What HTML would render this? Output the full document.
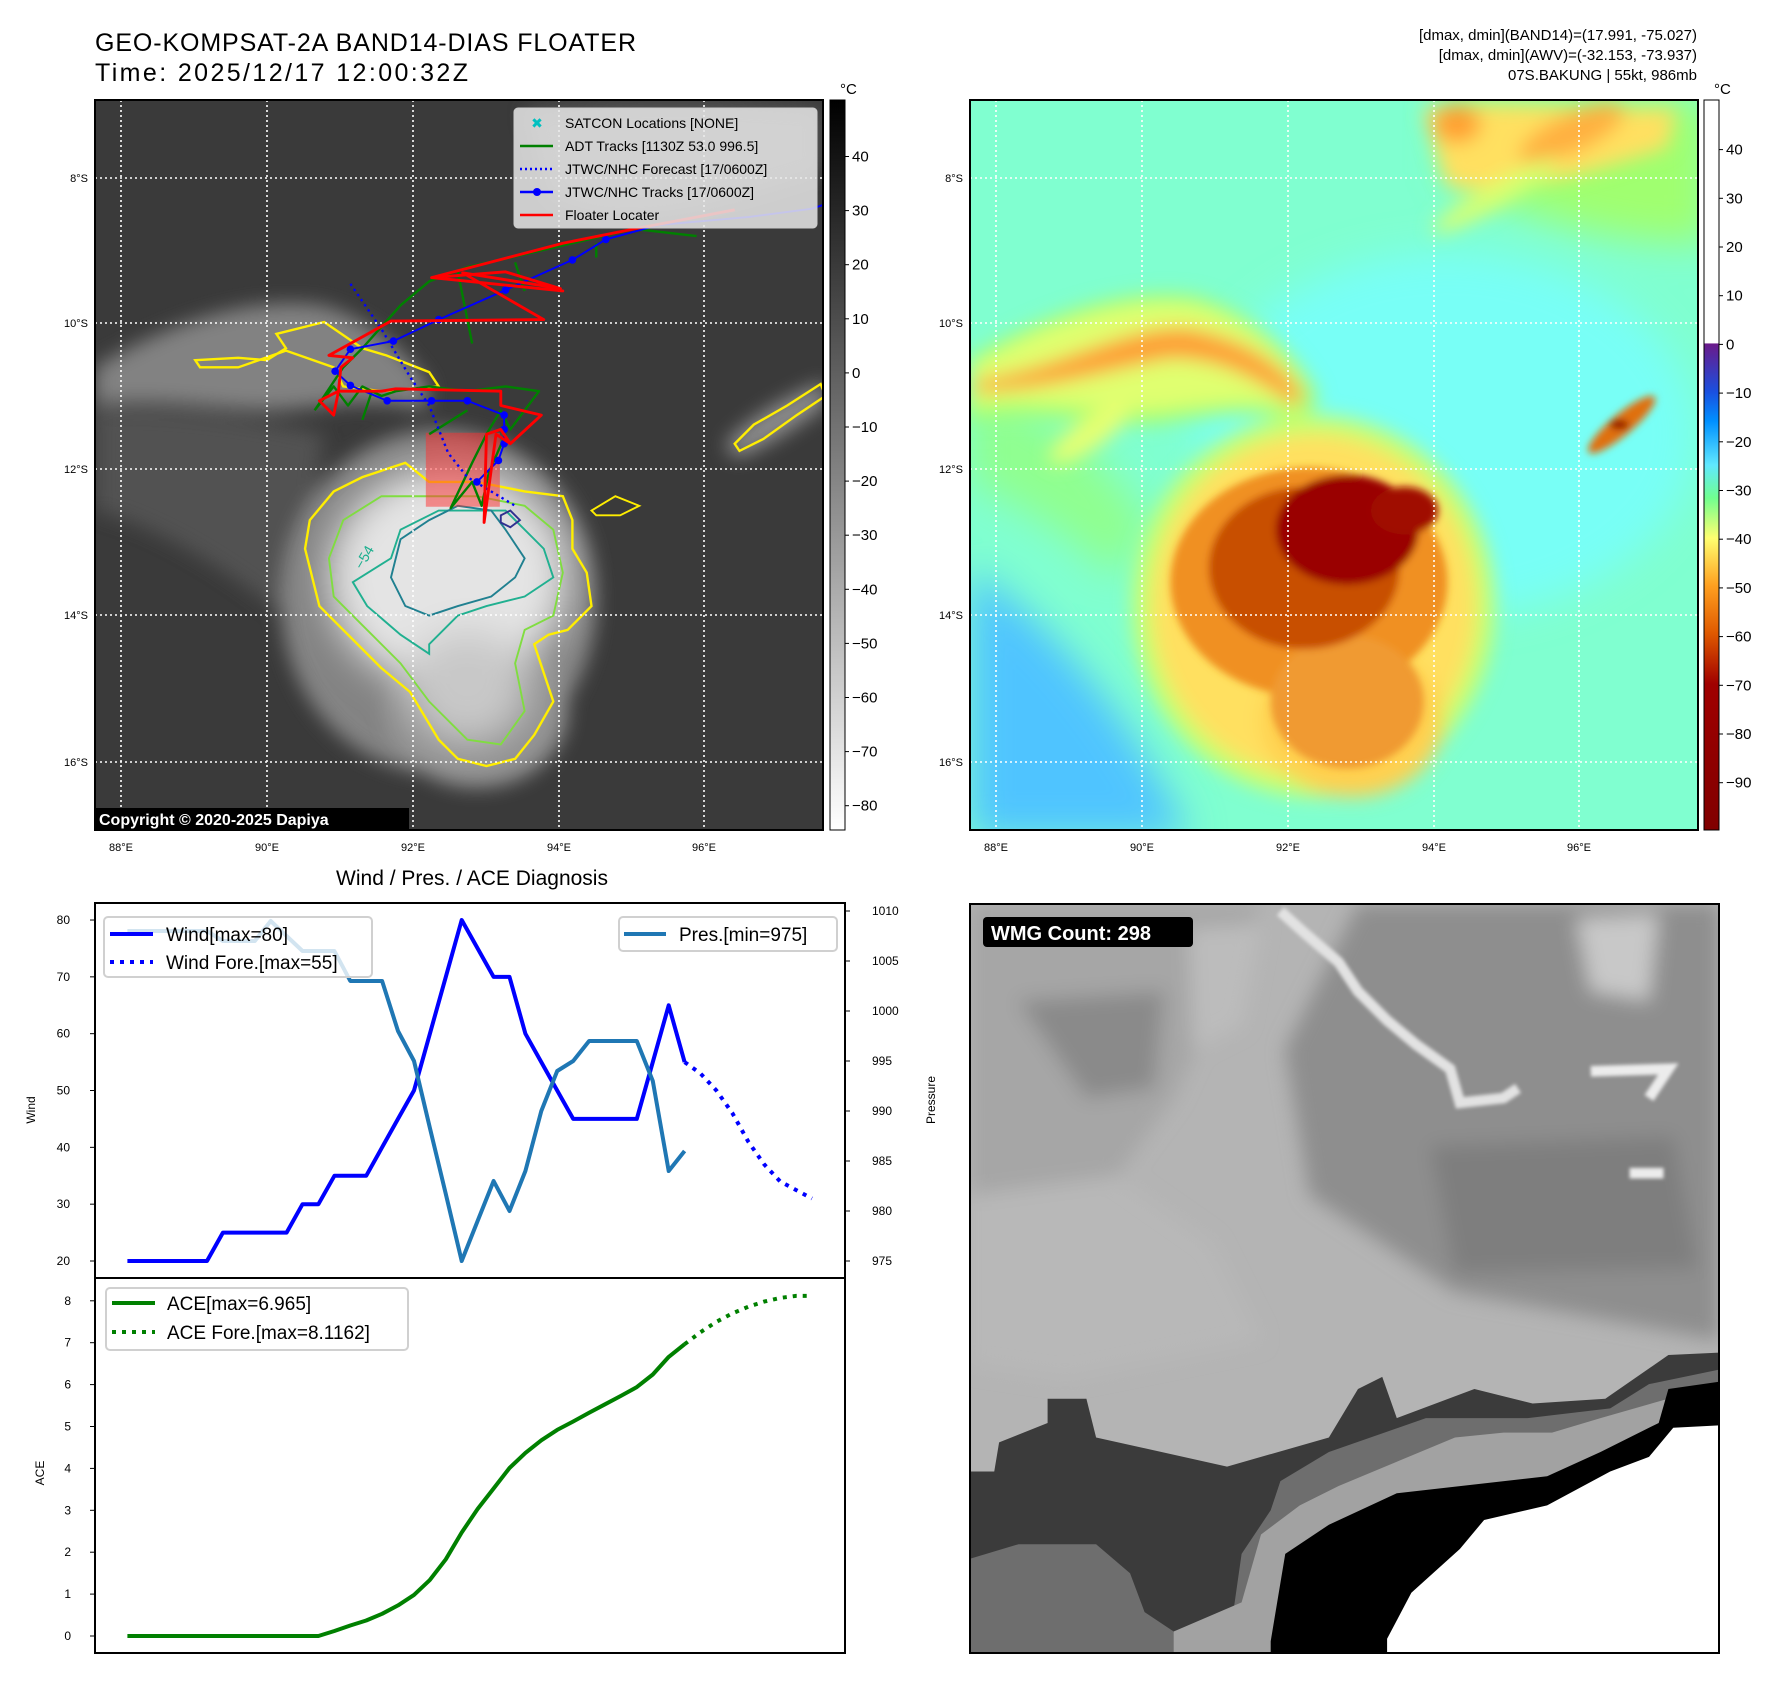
<!DOCTYPE html>
<html><head><meta charset="utf-8"><title>GEO-KOMPSAT-2A BAND14-DIAS FLOATER</title>
<style>
html,body{margin:0;padding:0;background:#fff;}
svg{display:block;font-family:"Liberation Sans","DejaVu Sans",sans-serif;}
</style></head>
<body>
<svg id="root" width="1788" height="1690" viewBox="0 0 1788 1690" xmlns="http://www.w3.org/2000/svg">
<defs>
<filter id="b4" x="-30%" y="-30%" width="160%" height="160%"><feGaussianBlur stdDeviation="4"/></filter>
<filter id="b8" x="-30%" y="-30%" width="160%" height="160%"><feGaussianBlur stdDeviation="8"/></filter>
<filter id="b20" x="-50%" y="-50%" width="200%" height="200%"><feGaussianBlur stdDeviation="20"/></filter>
<filter id="b40" x="-50%" y="-50%" width="200%" height="200%"><feGaussianBlur stdDeviation="40"/></filter>
<clipPath id="clipL"><rect x="95" y="100" width="728" height="730"/></clipPath>
<clipPath id="clipR"><rect x="970" y="100" width="728" height="730"/></clipPath>
<clipPath id="clipW"><rect x="970" y="904" width="749" height="749"/></clipPath>
<linearGradient id="cb1" x1="0" y1="0" x2="0" y2="1">
<stop offset="0" stop-color="#000"/><stop offset="1" stop-color="#fff"/></linearGradient>
<linearGradient id="cb2" x1="0" y1="0" x2="0" y2="1">
<stop offset="0" stop-color="#fff"/><stop offset="0.333" stop-color="#fff"/>
<stop offset="0.334" stop-color="#6a1a8a"/><stop offset="0.40" stop-color="#1a50e0"/>
<stop offset="0.44" stop-color="#0090ff"/><stop offset="0.50" stop-color="#60e8ff"/>
<stop offset="0.545" stop-color="#70ff90"/><stop offset="0.60" stop-color="#ffff70"/>
<stop offset="0.665" stop-color="#ffa020"/><stop offset="0.73" stop-color="#e05a00"/>
<stop offset="0.80" stop-color="#a00000"/><stop offset="1" stop-color="#800000"/></linearGradient>
</defs>

<!-- Titles -->
<text x="95" y="51" font-size="25" textLength="541">GEO-KOMPSAT-2A BAND14-DIAS FLOATER</text>
<text x="95" y="81" font-size="25" textLength="373">Time: 2025/12/17 12:00:32Z</text>
<g font-size="15" text-anchor="end">
<text x="1697" y="40">[dmax, dmin](BAND14)=(17.991, -75.027)</text>
<text x="1697" y="60">[dmax, dmin](AWV)=(-32.153, -73.937)</text>
<text x="1697" y="80">07S.BAKUNG | 55kt, 986mb</text>
</g>

<!-- ============ LEFT MAP (BAND14 grayscale) ============ -->
<g clip-path="url(#clipL)">
<rect x="95" y="100" width="728" height="730" fill="#3a3a3a"/>
<g transform="translate(95,100) scale(0.4774)">
 <g filter="url(#b20)" opacity="0.9">
  <path d="M0,560 C150,470 320,410 470,430 C560,450 650,520 700,600 L690,650 C600,620 500,640 380,650 C250,650 120,620 0,640 Z" fill="#8a8a8a"/>
  <path d="M0,650 C120,640 300,660 480,700 L420,1100 C300,1000 150,900 0,860 Z" fill="#555"/>
  <path d="M900,20 C1100,0 1300,0 1520,20 L1520,150 C1300,220 1100,280 950,200 Z" fill="#5a5a5a"/>
  <path d="M1320,720 C1380,660 1450,620 1530,590 L1530,640 C1460,690 1400,730 1340,750 Z" fill="#999"/>
  <ellipse cx="720" cy="1050" rx="330" ry="360" fill="#8c8c8c"/>
  <ellipse cx="800" cy="1280" rx="190" ry="160" fill="#9a9a9a"/>
 </g>
 <g filter="url(#b40)">
  <ellipse cx="740" cy="1000" rx="250" ry="230" fill="#e4e4e4"/>
  <ellipse cx="780" cy="1230" rx="130" ry="120" fill="#c8c8c8"/>
 </g>
 <!-- contours -->
 <path d="M440,940 L450,880 L500,820 L560,790 L650,760 L700,800 L800,800 L900,820 L980,830 L1000,880 L1000,940 L1030,990 L1040,1060 L990,1110 L950,1120 L920,1140 L960,1260 L920,1330 L880,1380 L820,1395 L760,1380 L720,1340 L660,1240 L600,1190 L520,1110 L470,1060 Z" fill="none" stroke="#ffee00" stroke-width="5"/>
 <path d="M490,960 L520,880 L600,830 L700,830 L800,830 L900,850 L960,900 L980,990 L960,1080 L900,1110 L880,1180 L900,1280 L850,1350 L780,1340 L700,1260 L640,1180 L560,1100 L500,1040 Z" fill="none" stroke="#80dd40" stroke-width="4"/>
 <path d="M540,1010 L620,960 L640,900 L720,860 L860,860 L940,940 L960,1000 L900,1040 L820,1060 L760,1080 L700,1140 L700,1160 L640,1120 L570,1060 Z" fill="none" stroke="#20b090" stroke-width="4"/>
 <path d="M620,1000 L640,920 L700,880 L760,850 L830,860 L860,900 L900,960 L880,1000 L830,1040 L760,1060 L700,1080 L650,1060 Z" fill="none" stroke="#208090" stroke-width="4"/>
 <path d="M850,870 L870,860 L890,880 L870,895 L850,885 Z" fill="none" stroke="#303090" stroke-width="4"/>
 <path d="M210,545 L300,540 L360,545 L400,520 L380,490 L480,465 L560,520 L610,535 L700,570 L720,600 L600,610 L520,600 L500,560 L400,525 L300,560 L220,560 Z" fill="none" stroke="#ffee00" stroke-width="5"/>
 <path d="M1340,720 L1380,680 L1450,640 L1520,595 L1530,620 L1470,660 L1400,710 L1350,735 Z" fill="none" stroke="#ffee00" stroke-width="5"/>
 <path d="M1040,860 L1090,830 L1140,850 L1100,870 L1050,870 Z" fill="none" stroke="#ffee00" stroke-width="4"/>
 <text x="560" y="985" font-size="30" fill="#20b090" transform="rotate(-60 560 985)">−54</text>
</g>
</g>

<!-- ============ RIGHT MAP (AWV color) ============ -->
<g clip-path="url(#clipR)">
<rect x="970" y="100" width="728" height="730" fill="#80ffd0"/>
<g transform="translate(970,100) scale(0.4774)">
 <g filter="url(#b40)">
  <ellipse cx="1000" cy="700" rx="520" ry="380" fill="#78fff6"/>
  <path d="M0,980 C150,1080 330,1270 460,1545 L0,1545 Z" fill="#50c4ff"/>
  <path d="M1000,0 L1550,0 L1550,300 C1350,300 1150,250 1000,150 Z" fill="#a0ff70"/>
  <path d="M0,600 C150,640 300,760 380,900 L300,1000 C200,900 100,850 0,800 Z" fill="#90ff90"/>
 </g>
 <g filter="url(#b20)">
  <path d="M0,540 C150,450 320,390 470,410 C580,440 680,520 730,620 L700,680 C600,640 500,660 380,680 C250,680 120,650 0,670 Z" fill="#a8ff70"/>
  <path d="M0,560 C150,470 320,410 470,430 C560,450 650,520 700,600 L690,650 C600,620 500,640 380,650 C250,650 120,620 0,640 Z" fill="#e0ff70"/>
  <path d="M10,590 C200,560 330,470 460,480 C560,500 640,540 700,620 L680,640 C600,580 520,540 420,540 C300,560 150,610 10,610 Z" fill="#ff9a30"/>
  <path d="M950,20 C1050,0 1200,20 1480,20 L1460,100 C1300,150 1150,200 1000,180 Z" fill="#ffe060"/>
  <ellipse cx="1020" cy="50" rx="50" ry="40" fill="#ffa030"/>
  <ellipse cx="1260" cy="70" rx="120" ry="40" fill="#ffb040" transform="rotate(-25 1260 70)"/>
  <ellipse cx="720" cy="1060" rx="380" ry="400" fill="#c8ff70"/>
  <ellipse cx="720" cy="1060" rx="340" ry="360" fill="#ffe060"/>
  <ellipse cx="800" cy="1300" rx="190" ry="160" fill="#ffd050"/>
  <ellipse cx="250" cy="700" rx="100" ry="30" fill="#e8ff70" transform="rotate(-35 250 700)"/>
  <ellipse cx="1100" cy="200" rx="150" ry="25" fill="#d8ff70" transform="rotate(-30 1100 200)"/>
 </g>
 <g filter="url(#b8)">
  <ellipse cx="710" cy="1010" rx="290" ry="240" fill="#f09020"/>
  <ellipse cx="790" cy="1260" rx="160" ry="140" fill="#f09a30"/>
  <ellipse cx="700" cy="980" rx="200" ry="170" fill="#c85000"/>
  <ellipse cx="790" cy="900" rx="150" ry="115" fill="#9a0000"/>
  <ellipse cx="910" cy="860" rx="70" ry="50" fill="#a01000"/>
  <ellipse cx="1365" cy="680" rx="90" ry="22" fill="#e07010" transform="rotate(-40 1365 680)"/>
  <ellipse cx="1360" cy="680" rx="20" ry="10" fill="#900000"/>
 </g>
</g>
</g>

<!-- grid lines both maps -->
<g stroke="#fff" stroke-width="1.6" stroke-dasharray="2,3" fill="none">
 <path d="M121,100V830M267,100V830M413,100V830M559,100V830M704,100V830M95,178H823M95,323H823M95,469H823M95,615H823M95,762H823"/>
 <path d="M996,100V830M1142,100V830M1288,100V830M1434,100V830M1579,100V830M970,178H1698M970,323H1698M970,469H1698M970,615H1698M970,762H1698"/>
</g>

<!-- tracks on left map -->
<g clip-path="url(#clipL)">
<g transform="translate(95,100) scale(0.4774)" fill="none" stroke-linejoin="round">
 <rect x="693" y="697" width="155" height="155" fill="#ff3030" fill-opacity="0.5" stroke="none"/>
 <path d="M460,650 L520,560 L560,520 L640,430 L700,380 L780,350 L870,330 L1000,300 L1130,270 L1260,285 M760,360 L790,510 M880,340 L900,400 M1050,300 L1050,330 M460,650 L500,600 L530,640 L560,600 L600,620 L630,610 L700,600 L780,610 L860,600 L930,610 L870,690 L850,650 L820,700 L790,760 L745,855 L790,800 L810,850 L825,780 L860,700 M560,670 L580,610 M700,700 L780,650" stroke="#008000" stroke-width="5"/>
 <path d="M535,385 L600,480 L660,580 L700,640 L740,740 L780,790 L880,850" stroke="#0000ff" stroke-width="5" stroke-dasharray="5,8"/>
 <path d="M1540,215 L1500,228 L1370,245 L1180,262 L1070,292 L1000,335 L860,398 L720,460 L625,505 L535,522 L503,568 L535,598 L612,630 L705,630 L780,630 L857,660 L857,690 L857,720 L845,755 L800,800" stroke="#0000ff" stroke-width="4"/>
 <g fill="#0000ff">
  <circle cx="1070" cy="292" r="8"/><circle cx="1000" cy="335" r="8"/><circle cx="860" cy="398" r="8"/><circle cx="720" cy="460" r="8"/><circle cx="625" cy="505" r="8"/><circle cx="535" cy="522" r="8"/><circle cx="503" cy="568" r="8"/><circle cx="535" cy="598" r="8"/><circle cx="612" cy="630" r="8"/><circle cx="705" cy="630" r="8"/><circle cx="780" cy="630" r="8"/><circle cx="857" cy="660" r="8"/><circle cx="857" cy="690" r="8"/><circle cx="857" cy="720" r="8"/><circle cx="845" cy="755" r="8"/><circle cx="800" cy="800" r="8"/>
 </g>
 <path d="M1340,230 L1130,270 L980,300 L770,355 L705,372 L980,400 L705,372 L860,360 L975,395 L770,362 L940,460 L620,463 L490,535 L540,540 L515,560 L510,610 L470,630 L500,660 L510,610 L600,610 L630,605 L850,610 L850,640 L935,660 L870,720 L850,690 L820,700 L815,885 L840,700 L870,720" stroke="#ff0000" stroke-width="6"/>
</g>
</g>

<!-- map legend -->
<g>
 <rect x="514" y="108" width="303" height="120" rx="4" fill="#e8e8e8" fill-opacity="0.85" stroke="#ccc"/>
 <g font-size="14" fill="#000">
  <text x="565" y="128">SATCON Locations [NONE]</text>
  <text x="565" y="151">ADT Tracks [1130Z 53.0 996.5]</text>
  <text x="565" y="174">JTWC/NHC Forecast [17/0600Z]</text>
  <text x="565" y="197">JTWC/NHC Tracks [17/0600Z]</text>
  <text x="565" y="220">Floater Locater</text>
 </g>
 <text x="537" y="128" font-size="14" fill="#00c0c0" font-weight="bold" text-anchor="middle">✖</text>
 <path d="M520,146H553" stroke="#008000" stroke-width="2.5"/>
 <path d="M520,169H553" stroke="#0000ff" stroke-width="2.5" stroke-dasharray="2,3"/>
 <path d="M520,192H553" stroke="#0000ff" stroke-width="2.5"/><circle cx="537" cy="192" r="4" fill="#0000ff"/>
 <path d="M520,215H553" stroke="#ff0000" stroke-width="2.5"/>
</g>

<!-- copyright -->
<rect x="95" y="808" width="314" height="22" fill="#000"/>
<text x="99" y="825" font-size="16" font-weight="bold" fill="#fff">Copyright © 2020-2025 Dapiya</text>

<!-- map frames & tick labels -->
<rect x="95" y="100" width="728" height="730" fill="none" stroke="#000" stroke-width="2"/>
<rect x="970" y="100" width="728" height="730" fill="none" stroke="#000" stroke-width="2"/>
<g font-size="11" fill="#000" text-anchor="end">
 <text x="88" y="182">8°S</text><text x="88" y="327">10°S</text><text x="88" y="473">12°S</text><text x="88" y="619">14°S</text><text x="88" y="766">16°S</text>
 <text x="963" y="182">8°S</text><text x="963" y="327">10°S</text><text x="963" y="473">12°S</text><text x="963" y="619">14°S</text><text x="963" y="766">16°S</text>
</g>
<g font-size="11" fill="#000" text-anchor="middle">
 <text x="121" y="851">88°E</text><text x="267" y="851">90°E</text><text x="413" y="851">92°E</text><text x="559" y="851">94°E</text><text x="704" y="851">96°E</text>
 <text x="996" y="851">88°E</text><text x="1142" y="851">90°E</text><text x="1288" y="851">92°E</text><text x="1434" y="851">94°E</text><text x="1579" y="851">96°E</text>
</g>

<!-- colorbars -->
<g>
 <rect x="830" y="100" width="15" height="730" fill="url(#cb1)" stroke="#000" stroke-width="1"/>
 <text x="840" y="94" font-size="15">°C</text>
 <g id="cb1ticks" font-size="15"></g>
</g>
<g>
 <rect x="1704" y="100" width="15" height="730" fill="url(#cb2)" stroke="#000" stroke-width="1"/>
 <text x="1714" y="94" font-size="15">°C</text>
 <g id="cb2ticks" font-size="15"></g>
</g>

<!-- ============ WMG panel ============ -->
<g clip-path="url(#clipW)">
<rect x="970" y="904" width="749" height="749" fill="#b4b4b4"/>
<g transform="translate(970,904) scale(0.485)">
 <g filter="url(#b20)">
  <path d="M0,0 L600,0 L420,400 L200,700 L0,900 Z" fill="#a6a6a6"/>
  <path d="M100,200 L400,180 L380,380 L240,400 Z" fill="#8a8a8a"/>
  <path d="M800,0 L1545,0 L1545,900 L1000,800 L700,600 L650,300 Z" fill="#8e8e8e"/>
  <path d="M950,500 L1450,480 L1500,750 L1000,760 Z" fill="#7e7e7e"/>
  <path d="M0,600 L300,560 L500,700 L600,900 L200,980 L0,950 Z" fill="#b8b8b8"/>
  <path d="M450,50 L600,40 L560,250 L460,300 Z" fill="#bcbcbc"/>
  <path d="M1250,30 L1420,20 L1400,200 L1280,180 Z" fill="#c8c8c8"/>
 </g>
 <g filter="url(#b4)">
  <path d="M640,15 L690,60 L760,120 L800,180 L860,240 L920,290 L990,340 L1010,410 L1100,400 L1130,380" fill="none" stroke="#e2e2e2" stroke-width="22"/>
  <path d="M1280,345 L1440,340 L1400,400 M1360,555 L1430,555" fill="none" stroke="#ececec" stroke-width="22"/>
 </g>
 <path d="M0,1170 L50,1170 L60,1110 L160,1070 L160,1020 L240,1020 L260,1100 L530,1160 L740,1100 L800,1000 L850,975 L880,1060 L1040,1000 L1160,1030 L1310,1020 L1440,930 L1545,925 L1545,1545 L0,1545 Z" fill="#3b3b3b"/>
 <path d="M0,1350 L100,1320 L260,1320 L330,1380 L360,1460 L420,1500 L540,1480 L560,1340 L620,1250 L640,1190 L740,1130 L940,1060 L1150,1060 L1320,1040 L1400,990 L1545,960 L1545,1545 L0,1545 Z" fill="#6e6e6e"/>
 <path d="M420,1500 L560,1440 L600,1300 L680,1240 L760,1200 L880,1150 L1000,1100 L1100,1090 L1200,1090 L1300,1060 L1545,990 L1545,1545 L420,1545 Z" fill="#a2a2a2"/>
 <path d="M620,1520 L650,1340 L740,1280 L880,1215 L1190,1180 L1300,1130 L1420,1070 L1440,1000 L1545,985 L1545,1545 L620,1545 Z" fill="#000"/>
 <path d="M860,1515 L910,1420 L1010,1330 L1060,1270 L1190,1240 L1320,1170 L1400,1140 L1450,1080 L1545,1075 L1545,1545 L860,1545 Z" fill="#fff"/>
</g>
</g>
<rect x="970" y="904" width="749" height="749" fill="none" stroke="#000" stroke-width="2"/>
<rect x="983" y="917" width="210" height="30" rx="4" fill="#000"/>
<text x="991" y="940" font-size="20" font-weight="bold" fill="#fff">WMG Count: 298</text>

<!-- ============ CHARTS ============ -->
<text x="472" y="885" font-size="21" text-anchor="middle">Wind / Pres. / ACE Diagnosis</text>
<g id="chart"></g>
</svg>

<script>
// ---- chart data ----
const windObs = [20,20,20,20,20,20,25,25,25,25,25,30,30,35,35,35,40,45,50,60,70,80,75,70,70,60,55,50,45,45,45,45,45,55,65,55];
const windFore = [55,53,50,46,41,37,34,32.5,31];
const presObs = [1008,1008,1008,1008,1008,1008,1007,1007,1007,1009,1007.5,1006,1006,1006,1003,1003,1003,998,995,988.3,981.7,975,979,983,980,984,990,994,995,997,997,997,997,993,984,986];
const aceObs = [0,0,0,0,0,0,0,0,0,0,0,0,0,0.12,0.25,0.37,0.53,0.73,0.98,1.34,1.83,2.47,3.03,3.52,4.01,4.37,4.67,4.92,5.12,5.33,5.53,5.73,5.94,6.24,6.66,6.965];
const aceFore = [6.965,7.25,7.5,7.7,7.86,7.98,8.07,8.116,8.116];
const windTicks = [20,30,40,50,60,70,80];
const presTicks = [975,980,985,990,995,1000,1005,1010];
const aceTicks = [0,1,2,3,4,5,6,7,8];
const cb1Ticks = [40,30,20,10,0,-10,-20,-30,-40,-50,-60,-70,-80];
const cb2Ticks = [40,30,20,10,0,-10,-20,-30,-40,-50,-60,-70,-80,-90];

const NS = 'http://www.w3.org/2000/svg';
const chart = document.getElementById('chart');
function mk(tag, attrs, parent){ const e=document.createElementNS(NS,tag); for(const k in attrs) e.setAttribute(k,attrs[k]); (parent||chart).appendChild(e); return e; }
const X = i => 127.4 + i*15.92;
const yW = v => 1261 - (v-20)*5.683;
const yP = p => 1261 - (p-975)*10.0;
const yA = a => 1636 - a*41.9;
function pts(arr, off, fy){ return arr.map((v,i)=>X(i+off).toFixed(1)+','+fy(v).toFixed(1)).join(' '); }
const fmt = v => String(v).replace('-','\u2212');

// colorbar ticks
const cb1 = document.getElementById('cb1ticks');
cb1Ticks.forEach(v=>{
  const y = 156.5 + (40-v)*5.41;
  const t = mk('line',{x1:845,x2:849,y1:y,y2:y,stroke:'#000'},cb1);
  
  
  const l = mk('text',{x:852,y:y+5},cb1);
  
  
  l.textContent = fmt(v);
});
const cb2 = document.getElementById('cb2ticks');
cb2Ticks.forEach(v=>{
  const y = 149.6 + (40-v)*4.87;
  const t = mk('line',{x1:1719,x2:1723,y1:y,y2:y,stroke:'#000'},cb2);
  
  
  const l = mk('text',{x:1726,y:y+5},cb2);
  
  
  l.textContent = fmt(v);
});

// axes frames
const f1 = mk('rect',{x:95,y:903,width:750,height:375,fill:'none',stroke:'#000','stroke-width':2});


const f2 = mk('rect',{x:95,y:1278,width:750,height:375,fill:'none',stroke:'#000','stroke-width':2});



windTicks.forEach(v=>{
  const t = mk('line',{x1:90,x2:95,y1:yW(v),y2:yW(v),stroke:'#000'});
  
  
  const l = mk('text',{x:70,y:yW(v)+4,'font-size':12,'text-anchor':'end'});
  
  
  l.textContent = v;
});
presTicks.forEach(v=>{
  const t = mk('line',{x1:845,x2:850,y1:yP(v),y2:yP(v),stroke:'#000'});
  
  
  const l = mk('text',{x:872,y:yP(v)+4,'font-size':12});
  
  
  l.textContent = v;
});
aceTicks.forEach(v=>{
  const t = mk('line',{x1:90,x2:95,y1:yA(v),y2:yA(v),stroke:'#000'});
  
  
  const l = mk('text',{x:71,y:yA(v)+4,'font-size':12,'text-anchor':'end'});
  
  
  l.textContent = v;
});
const yl1 = mk('text',{x:0,y:0,'font-size':12,'text-anchor':'middle',transform:'translate(35,1110) rotate(-90)'});


yl1.textContent='Wind';
const yl2 = mk('text',{x:0,y:0,'font-size':12,'text-anchor':'middle',transform:'translate(935,1100) rotate(-90)'});


yl2.textContent='Pressure';
const yl3 = mk('text',{x:0,y:0,'font-size':12,'text-anchor':'middle',transform:'translate(44,1473) rotate(-90)'});


yl3.textContent='ACE';

// series
const wl = mk('polyline',{points:pts(windObs,0,yW),fill:'none',stroke:'#0000ff','stroke-width':4,'stroke-linejoin':'round'});


const wf = mk('polyline',{points:pts(windFore,35,yW),fill:'none',stroke:'#0000ff','stroke-width':4,'stroke-dasharray':'4,6'});


const pl = mk('polyline',{points:pts(presObs,0,yP),fill:'none',stroke:'#1f77b4','stroke-width':4,'stroke-linejoin':'round'});


const al = mk('polyline',{points:pts(aceObs,0,yA),fill:'none',stroke:'#008000','stroke-width':4,'stroke-linejoin':'round'});


const af = mk('polyline',{points:pts(aceFore,35,yA),fill:'none',stroke:'#008000','stroke-width':4,'stroke-dasharray':'4,6'});



// legends
function legendBox(x,y,w,h,name){ const r=mk('rect',{x:x,y:y,width:w,height:h,rx:4,fill:'#fff','fill-opacity':0.8,stroke:'#d0d0d0','stroke-width':2});
  
   }
legendBox(104,917,268,60,'wind-legend');
const lg1 = mk('line',{x1:110,x2:153,y1:934,y2:934,stroke:'#0000ff','stroke-width':4});


const lt1 = mk('text',{x:166,y:941,'font-size':19});


lt1.textContent='Wind[max=80]';
const lg2 = mk('line',{x1:110,x2:153,y1:962,y2:962,stroke:'#0000ff','stroke-width':4,'stroke-dasharray':'4,6'});


const lt2 = mk('text',{x:166,y:969,'font-size':19});


lt2.textContent='Wind Fore.[max=55]';
legendBox(619,917,218,34,'pressure-legend');
const lg3 = mk('line',{x1:624,x2:666,y1:934,y2:934,stroke:'#1f77b4','stroke-width':4});


const lt3 = mk('text',{x:679,y:941,'font-size':19});


lt3.textContent='Pres.[min=975]';
legendBox(106,1288,302,62,'ace-legend');
const lg4 = mk('line',{x1:112,x2:155,y1:1303,y2:1303,stroke:'#008000','stroke-width':4});


const lt4 = mk('text',{x:167,y:1310,'font-size':19});


lt4.textContent='ACE[max=6.965]';
const lg5 = mk('line',{x1:112,x2:155,y1:1332,y2:1332,stroke:'#008000','stroke-width':4,'stroke-dasharray':'4,6'});


const lt5 = mk('text',{x:167,y:1339,'font-size':19});


lt5.textContent='ACE Fore.[max=8.1162]';
</script>
</body></html>
